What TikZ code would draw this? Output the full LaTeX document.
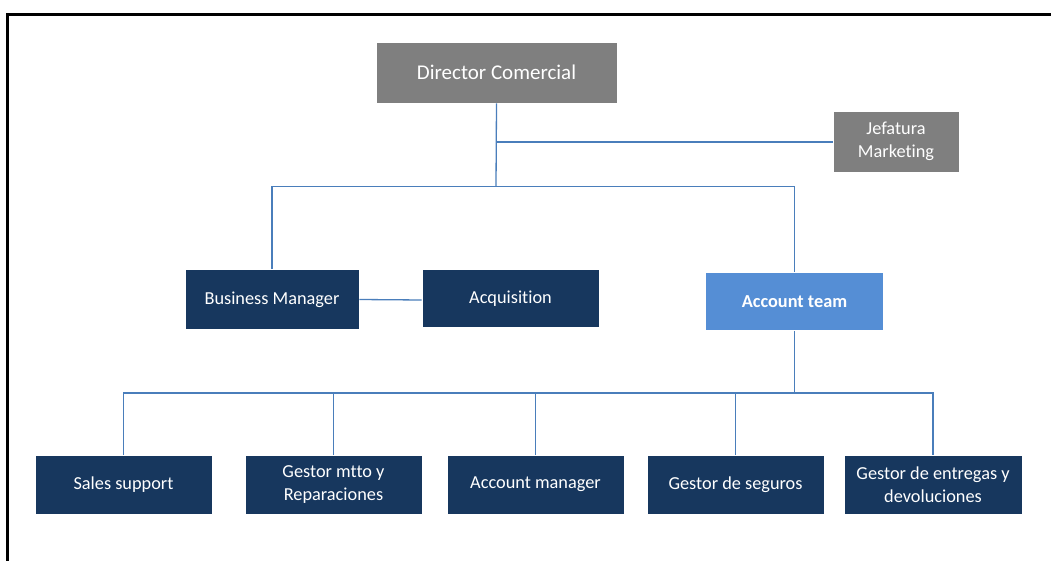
\documentclass[tikz,border=0pt]{standalone}
\usepackage{fontspec}
\setmainfont[Ligatures={NoCommon}]{Carlito}
\definecolor{navy}{HTML}{17375E}
\definecolor{grayb}{HTML}{7F7F7F}
\definecolor{blueb}{HTML}{558ED5}
\definecolor{linec}{HTML}{4A7EBB}
\begin{document}
\begin{tikzpicture}[x=1pt,y=-1pt,
  box/.style={draw=white,line width=0.6pt,text=white,align=center,inner sep=0pt,
    font=\fontsize{18.3}{22.5}\selectfont},
  navybox/.style={box,fill=navy},
  graybox/.style={box,fill=grayb},
  bluebox/.style={box,fill=blueb,font=\fontsize{18.3}{22.5}\selectfont\bfseries},
  conn/.style={draw=linec,line width=1.3pt}]
\useasboundingbox (0,0) rectangle (1051,561);
\fill[white] (0,0) rectangle (1051,561);
% frame
\draw[line width=3pt] (7.5,561) -- (7.5,14.5) -- (1051,14.5);
% boxes
\node[graybox,minimum width=241pt,minimum height=61pt,font=\fontsize{21}{24}\selectfont] (dir) at (496.5,72.5) {Director Comercial};
\node[graybox,minimum width=126pt,minimum height=61pt] (jef) at (896,141.5) {Jefatura\\Marketing};
\node[navybox,minimum width=174pt,minimum height=60pt] (bm) at (272,299.5) {Business Manager};
\node[navybox,minimum width=177pt,minimum height=58pt] (acq) at (510.5,298.5) {Acquisition};
\node[bluebox,minimum width=178pt,minimum height=58pt] (at) at (794.5,301.5) {Account team};
\node[navybox,minimum width=177pt,minimum height=59pt] (ss) at (123.5,484.5) {Sales support};
\node[navybox,minimum width=177pt,minimum height=59pt] (gm) at (333.5,484.5) {Gestor mtto y\\Reparaciones};
\node[navybox,minimum width=177pt,minimum height=59pt] (am) at (535.5,484.5) {Account manager};
\node[navybox,minimum width=177pt,minimum height=59pt] (gs) at (735.5,484.5) {Gestor de seguros};
\node[navybox,minimum width=178pt,minimum height=59pt] (ge) at (933,484.5) {Gestor de entregas y\\devoluciones};
% junctions
\coordinate (j1) at (496,142);
\coordinate (j2) at (496,186.5);
\coordinate (j3) at (794.5,393);
% connectors
\draw[conn] (dir.south) -- (j2);
\draw[conn] (j1) -- (j1 -| jef.west);
\draw[conn] (bm.north) |- (j2) -| (at.north);
\draw[conn] (bm.east) -- ([yshift=-1.5pt]acq.west);
\draw[conn] (at.south) -- (j3);
\draw[conn] (ss.north) |- (j3) -| (ge.north);
\draw[conn] (gm.north) -- (gm.north |- j3);
\draw[conn] (am.north) -- (am.north |- j3);
\draw[conn] (gs.north) -- (gs.north |- j3);
\end{tikzpicture}
\end{document}
